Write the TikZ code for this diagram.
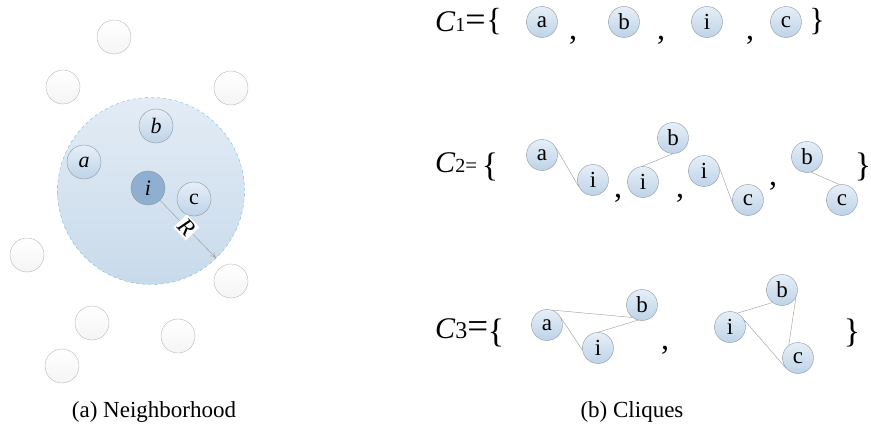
\documentclass[tikz,border=0pt]{standalone}
\usepackage{fontspec}
\setmainfont{Liberation Serif}
\usepackage{xcolor}
\usetikzlibrary{arrows.meta,positioning,calc,shapes}

\definecolor{areatop}{HTML}{E3ECF5}
\definecolor{areabot}{HTML}{C8DAEB}
\definecolor{areaedge}{HTML}{6FBDE2}
\definecolor{nodetop}{HTML}{E6EFF8}
\definecolor{nodebot}{HTML}{BED3E8}
\definecolor{nodeedge}{HTML}{8D98A4}
\definecolor{centerfill}{HTML}{8EAFD0}
\newcommand{\setfs}[1]{\fontsize{#1}{#1}\selectfont}

\begin{document}
\begin{tikzpicture}[x=1pt,y=-1pt,>={To[length=6pt,width=6pt]},
other/.style={circle,draw=gray!55,thin,minimum size=34pt,inner sep=0pt,top color=white,bottom color=gray!8},
nbr/.style={circle,draw=nodeedge,thin,minimum size=34pt,inner sep=0pt,top color=nodetop,bottom color=nodebot,font=\setfs{22}},
ctr/.style={circle,draw=nodeedge,thin,minimum size=34pt,inner sep=0pt,fill=centerfill,font=\setfs{22}},
cl/.style={circle,draw=nodeedge,thin,minimum size=31pt,inner sep=0pt,top color=nodetop,bottom color=nodebot,font=\setfs{23}},
edge/.style={draw=gray!80,thin},
sep/.style={font=\setfs{32},inner sep=0pt},
brace/.style={inner sep=0pt},
caption/.style={font=\setfs{23},anchor=base}]

\useasboundingbox (0,0) rectangle (871,428);

% (a) neighborhood
\node[circle,minimum size=187pt,inner sep=0pt,top color=areatop,bottom color=areabot,draw=areaedge,dashed,thin] (area) at (151,191) {};

\node[other] (w1) at (114,37) {};
\node[other] (w2) at (63,87) {};
\node[other] (w3) at (231,88) {};
\node[other] (w4) at (27,255) {};
\node[other] (w5) at (231,281) {};
\node[other] (w6) at (92,323) {};
\node[other] (w7) at (178,336) {};
\node[other] (w8) at (62,366) {};

\node[nbr] (nb) at (156,126) {\textit{b}};
\node[nbr] (na) at (84,162) {\textit{a}};
\node[ctr] (ni) at (148,188) {\textit{i}};
\node[nbr] (nc) at (194,199) {c};

\coordinate (rtip) at (216,258);
\draw[->,gray!80,thin] (ni) -- (rtip) node[pos=0.47,sloped,fill=white,inner sep=2pt,text=black,font=\setfs{23}] (rlab) {\textit{R}};

\node[caption] (capa) at (154,417) {(a) Neighborhood};

% (b) cliques
\node[anchor=base west,inner sep=0pt] (c1lab) at (435,32) {\setfs{30}\textit{C}\setfs{20}1\setfs{36}=};
\node[brace,font=\setfs{32}] (c1open) at (494,22) {\{};
\node[cl] (c1a) at (542,22) {a};
\node[cl] (c1b) at (624,22) {b};
\node[cl] (c1i) at (707,22) {i};
\node[cl] (c1c) at (786,22) {c};
\node[sep] (c1s1) at (573,40) {,};
\node[sep] (c1s2) at (661,40) {,};
\node[sep] (c1s3) at (750,40) {,};
\node[brace,font=\setfs{32}] (c1close) at (817,22) {\}};

\node[anchor=base west,inner sep=0pt] (c2lab) at (435,172) {\setfs{30}\textit{C}\setfs{20}2\setfs{21}=};
\node[brace,font=\setfs{34}] (c2open) at (490,167) {\{};
\node[cl] (c2a) at (542,155) {a};
\node[cl] (c2i) at (593,180) {i};
\node[sep] (c2s1) at (618,198) {,};
\node[cl] (c2j) at (643,182) {i};
\node[cl] (c2b) at (673,138) {b};
\node[sep] (c2s2) at (680,198) {,};
\node[cl] (c2k) at (704,171) {i};
\node[cl] (c2c) at (748,200) {c};
\node[sep] (c2s3) at (773,186) {,};
\node[cl] (c2d) at (807,157) {b};
\node[cl] (c2e) at (842,200) {c};
\node[brace,font=\setfs{34}] (c2close) at (863,167) {\}};

\draw[edge] (c2a.27) -- (c2i.205);
\draw[edge] (c2j.93) -- (c2b.270);
\draw[edge] (c2k.15) -- (c2c.195);
\draw[edge] (c2d.285) -- (c2e.100);

\node[anchor=base west,inner sep=0pt] (c3lab) at (435,338) {\setfs{30}\textit{C}\setfs{24}3\setfs{37}=};
\node[brace,font=\setfs{34}] (c3open) at (496,333) {\{};
\node[cl] (c3a) at (547,325) {a};
\node[cl] (c3b) at (642,305) {b};
\node[cl] (c3i) at (598,348) {i};
\node[sep] (c3s1) at (665,350) {,};
\node[cl] (c3j) at (730,327) {i};
\node[cl] (c3d) at (782,290) {b};
\node[cl] (c3c) at (798,358) {c};
\node[brace,font=\setfs{34}] (c3close) at (852,333) {\}};

\draw[edge] (c3a.73) -- (c3b.233);
\draw[edge] (c3a.27) -- (c3i.188);
\draw[edge] (c3i.90) -- (c3b.255);
\draw[edge] (c3j.62) -- (c3d.233);
\draw[edge] (c3j.28) -- (c3c.219);
\draw[edge] (c3d.-28) -- (c3c.126);

\node[caption] (capb) at (632,417) {(b) Cliques};
\end{tikzpicture}
\end{document}
